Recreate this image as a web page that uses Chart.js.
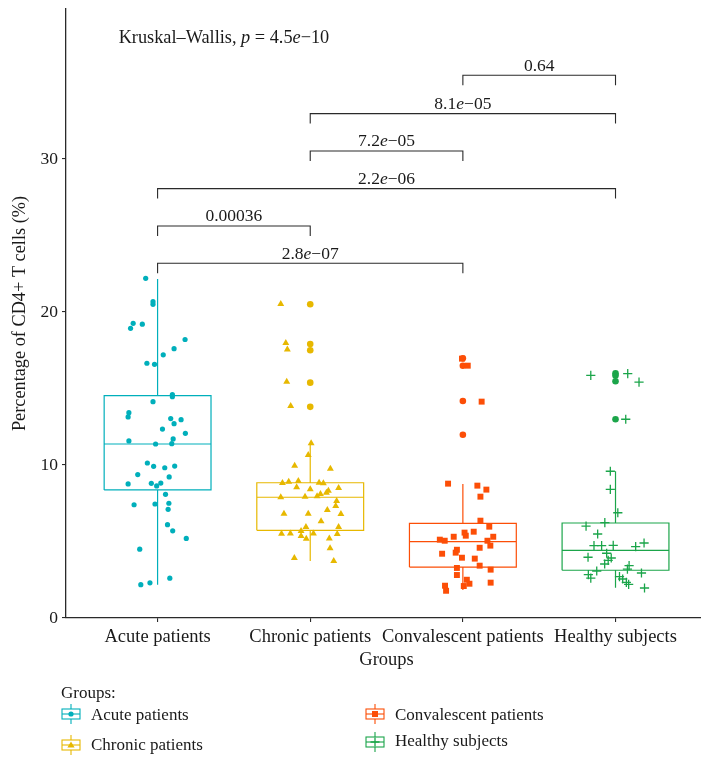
<!DOCTYPE html>
<html lang="en">
<head>
<meta charset="UTF-8">
<title>Percentage of CD4+ T cells by group</title>
<script src="https://cdn.jsdelivr.net/npm/chart.js@4"></script>
<style>
  html, body { margin: 0; padding: 0; background: #fff; overflow: hidden; }
  #wrap { position: relative; width: 713px; height: 758px; font-family: "Liberation Serif", serif; color: #1a1a1a; }
  #chart { position: absolute; left: 0; top: 0; }
  .lg { position: absolute; font-size: 17px; line-height: 20px; white-space: nowrap; }
  .icon { position: absolute; }
</style>
</head>
<body>
<div id="wrap">
  <canvas id="chart" width="713" height="758"></canvas>
  <div id="legend"></div>
</div>
<script>
// groups and colours
const groups = ['Acute patients', 'Chronic patients', 'Convalescent patients', 'Healthy subjects'];
const colors = ['#00AFBB', '#E7B800', '#FC4E07', '#1BA54A'];
const shapes = ['circle', 'triangle', 'rect', 'cross'];

// box statistics
const q1 = [8.37, 5.73, 3.33, 3.12];
const medians = [11.37, 7.89, 4.99, 4.42];
const q3 = [14.53, 8.84, 6.19, 6.21];
const whiskerLow = [2.18, 3.73, 1.83, 1.98];
const whiskerHigh = [22.16, 11.42, 8.76, 9.59];

// outliers drawn by the boxplot (at the group centre)
const acuteOutliers = [];
const chronicOutliers = [20.5, 17.9, 17.5, 15.38, 13.8];
const convalescentOutliers = [16.97, 16.49, 14.18, 11.98];
const healthyOutliers = [15.99, 15.84, 15.47, 12.99];

// jittered observations: value and horizontal jitter
const acuteValues = [22.2, 20.67, 20.5, 19.26, 19.2, 18.93, 18.2, 17.6, 17.2, 16.65, 16.58, 14.6, 14.46, 14.14, 13.42, 13.14, 13.03, 12.96, 12.7, 12.35, 12.07, 11.57, 11.7, 11.39, 11.37, 10.13, 9.91, 9.82, 9.93, 9.37, 9.22, 8.76, 8.8, 8.63, 8.82, 8.08, 7.4, 7.45, 7.5, 7.1, 6.1, 5.7, 5.2, 4.5, 2.6, 2.3, 2.18];
const acuteJitter = [-0.078, -0.03, -0.03, -0.16, -0.1, -0.177, 0.18, 0.108, 0.037, -0.07, -0.02, 0.097, 0.097, -0.03, -0.188, -0.193, 0.086, 0.154, 0.108, 0.032, 0.182, -0.188, 0.102, 0.093, -0.013, -0.067, -0.026, 0.047, 0.112, -0.13, 0.076, -0.193, -0.041, -0.006, 0.021, 0.052, -0.154, -0.017, 0.074, 0.069, 0.065, 0.099, 0.188, -0.117, 0.08, -0.05, -0.11];

const chronicValues = [20.52, 17.97, 17.54, 15.44, 13.86, 11.42, 10.65, 9.95, 9.76, 8.82, 8.91, 8.95, 8.84, 8.8, 8.54, 8.41, 8.5, 8.32, 8.19, 8.1, 7.95, 7.89, 7.93, 7.65, 7.32, 7.06, 6.82, 6.82, 6.8, 6.32, 5.95, 5.95, 5.69, 5.51, 5.53, 5.53, 5.36, 5.49, 5.18, 5.2, 4.56, 3.92, 3.73];
const chronicJitter = [-0.193, -0.16, -0.15, -0.154, -0.128, 0.006, -0.013, -0.102, 0.132, -0.182, -0.141, -0.078, 0.058, 0.086, -0.089, 0, 0.186, 0.119, 0.106, 0.067, 0.045, -0.193, -0.034, 0.173, 0.167, 0.112, -0.172, -0.013, 0.201, 0.071, -0.028, 0.186, -0.06, -0.188, -0.13, 0.021, -0.06, 0.177, -0.026, 0.125, 0.13, -0.104, 0.154];

const convalescentValues = [16.95, 16.49, 14.14, 8.78, 8.65, 8.39, 7.93, 6.36, 5.97, 5.58, 5.64, 5.38, 5.31, 5.31, 5.12, 5.05, 5.05, 4.73, 4.46, 4.59, 4.27, 4.2, 3.94, 3.88, 3.42, 3.27, 3.16, 2.81, 2.5, 2.24, 2.31, 2.09, 2.11, 1.78];
const convalescentJitter = [-0.006, 0.032, 0.123, -0.097, 0.095, 0.154, 0.115, 0.115, 0.173, 0.011, 0.071, 0.019, -0.06, 0.199, -0.151, -0.119, 0.161, 0.18, -0.039, 0.11, -0.047, -0.136, -0.006, 0.078, 0.11, -0.039, 0.182, -0.039, 0.026, 0.043, 0.182, 0.006, -0.117, -0.11];

const healthyValues = [15.86, 15.97, 15.42, 12.99, 9.59, 8.41, 6.88, 6.23, 6.01, 5.49, 4.73, 4.73, 4.75, 4.66, 4.9, 4.23, 3.97, 3.92, 3.77, 3.53, 3.42, 3.2, 3.07, 2.94, 2.83, 2.61, 2.7, 2.55, 2.33, 2.2, 1.96];
const healthyJitter = [-0.162, 0.08, 0.154, 0.067, -0.034, -0.034, 0.015, -0.07, -0.193, -0.117, -0.141, -0.091, -0.015, 0.132, 0.187, -0.058, -0.18, -0.028, -0.048, -0.071, 0.089, 0.078, -0.123, 0.17, -0.178, -0.162, 0.026, 0.047, 0.071, 0.086, 0.19];

// pairwise comparisons (group numbers), p-values and bracket heights
const pairs = [[3, 4], [2, 4], [2, 3], [1, 4], [1, 2], [1, 3]];
const pLabels = ['0.64', '8.1e\u221205', '7.2e\u221205', '2.2e\u221206', '0.00036', '2.8e\u221207'];
const bracketY = [35.47, 32.96, 30.52, 28.06, 25.62, 23.18];

const yTicks = [0, 10, 20, 30];

const allValues = [acuteValues, chronicValues, convalescentValues, healthyValues];
const allJitter = [acuteJitter, chronicJitter, convalescentJitter, healthyJitter];
const allOutliers = [acuteOutliers, chronicOutliers, convalescentOutliers, healthyOutliers];

const HALF_BOX = 0.35;
const TIP = 0.65;
const INK = '#1a1a1a';
const FONT = '"Liberation Serif", "Times New Roman", serif';
Chart.defaults.font.family = FONT;
Chart.defaults.color = INK;

const pointSizes = { circle: 2.6, triangle: 4, rect: 4.2, cross: 4.6 };

const datasets = [];

// jittered points on top
groups.forEach((g, i) => {
  const shape = shapes[i];
  datasets.push({
    type: 'scatter',
    label: g,
    data: allValues[i].map((v, k) => ({ x: i + 1 + allJitter[i][k], y: v })),
    pointStyle: shape,
    pointRadius: pointSizes[shape],
    backgroundColor: colors[i],
    borderColor: colors[i],
    borderWidth: shape === 'cross' ? 1.3 : 0,
    order: 0
  });
});

// boxplot outliers
groups.forEach((g, i) => {
  datasets.push({
    type: 'scatter',
    label: g + ' outliers',
    data: allOutliers[i].map(v => ({ x: i + 1, y: v })),
    pointStyle: 'circle',
    pointRadius: 3.3,
    backgroundColor: colors[i],
    borderWidth: 0,
    order: 1
  });
});

// box outline, median and whiskers as broken line
groups.forEach((g, i) => {
  const c = i + 1, l = c - HALF_BOX, r = c + HALF_BOX;
  datasets.push({
    type: 'scatter',
    label: g + ' box',
    showLine: true,
    spanGaps: false,
    data: [
      { x: l, y: q1[i] }, { x: r, y: q1[i] }, { x: r, y: q3[i] }, { x: l, y: q3[i] }, { x: l, y: q1[i] },
      { x: l, y: null },
      { x: l, y: medians[i] }, { x: r, y: medians[i] },
      { x: c, y: null },
      { x: c, y: q3[i] }, { x: c, y: whiskerHigh[i] },
      { x: c, y: null },
      { x: c, y: whiskerLow[i] }, { x: c, y: q1[i] }
    ],
    borderColor: colors[i],
    borderWidth: 1.2,
    pointRadius: 0,
    order: 2
  });
});

// comparison brackets
pairs.forEach(([a, b], i) => {
  datasets.push({
    type: 'scatter',
    label: 'bracket ' + pLabels[i],
    showLine: true,
    data: [
      { x: a, y: bracketY[i] - TIP }, { x: a, y: bracketY[i] },
      { x: b, y: bracketY[i] }, { x: b, y: bracketY[i] - TIP }
    ],
    borderColor: '#2a2a2a',
    borderWidth: 1.1,
    pointRadius: 0,
    order: 3
  });
});

// text with italic parts
function sciParts(s) {
  const k = s.indexOf('e');
  if (k < 0) return [[s, false]];
  return [[s.slice(0, k), false], ['e', true], [s.slice(k + 1), false]];
}
const kwParts = [['Kruskal\u2013Wallis, ', false], ['p', true], [' = 4.5', false], ['e', true], ['\u221210', false]];

function drawRich(ctx, parts, x, y, align, size) {
  const fontOf = it => (it ? 'italic ' : '') + size + 'px ' + FONT;
  let total = 0;
  parts.forEach(([t, it]) => { ctx.font = fontOf(it); total += ctx.measureText(t).width; });
  let cx = align === 'center' ? x - total / 2 : x;
  ctx.textAlign = 'left';
  ctx.textBaseline = 'alphabetic';
  parts.forEach(([t, it]) => {
    ctx.font = fontOf(it);
    ctx.fillText(t, cx, y);
    cx += ctx.measureText(t).width;
  });
}

const textPlugin = {
  id: 'pvalueText',
  afterDatasetsDraw(chart) {
    const { ctx, scales: { x, y } } = chart;
    ctx.save();
    ctx.fillStyle = INK;
    pairs.forEach(([a, b], i) => {
      drawRich(ctx, sciParts(pLabels[i]), x.getPixelForValue((a + b) / 2), y.getPixelForValue(bracketY[i]) - 4.5, 'center', 17.5);
    });
    drawRich(ctx, kwParts, x.getPixelForValue(0.745), y.getPixelForValue(37.6), 'left', 18.3);
    ctx.restore();
  }
};

new Chart(document.getElementById('chart'), {
  type: 'scatter',
  data: { datasets },
  options: {
    responsive: false,
    animation: false,
    layout: { padding: { top: 9, right: 0, bottom: 80, left: 0 } },
    plugins: { legend: { display: false }, tooltip: { enabled: false } },
    scales: {
      x: {
        type: 'linear',
        min: 0.4,
        max: 4.6,
        afterBuildTicks: axis => { axis.ticks = groups.map((g, i) => ({ value: i + 1 })); },
        afterFit: s => { s.height = 60; s.paddingLeft = 0; s.paddingRight = 0; },
        ticks: {
          autoSkip: false,
          maxRotation: 0,
          padding: 4,
          color: INK,
          font: { size: 18.5 },
          callback: v => groups[v - 1]
        },
        grid: { display: true, drawOnChartArea: false, drawTicks: true, tickLength: 4, color: '#2a2a2a', lineWidth: 1.1 },
        border: { display: true, color: '#2a2a2a', width: 1.3 },
        title: { display: true, text: 'Groups', color: INK, font: { size: 18.5 }, padding: { top: 0, bottom: 7 } }
      },
      y: {
        min: 0,
        max: 39.8,
        afterBuildTicks: axis => { axis.ticks = yTicks.map(v => ({ value: v })); },
        afterFit: s => { s.width = 66; s.paddingTop = 0; s.paddingBottom = 0; },
        ticks: { padding: 4, color: INK, font: { size: 17.5 } },
        grid: { display: true, drawOnChartArea: false, drawTicks: true, tickLength: 4, color: '#2a2a2a', lineWidth: 1.1 },
        border: { display: true, color: '#2a2a2a', width: 1.3 },
        title: { display: true, text: 'Percentage of CD4+ T cells (%)', color: INK, font: { size: 18.3 }, padding: { top: 9, bottom: 0 } }
      }
    }
  },
  plugins: [textPlugin]
});

// legend: boxplot glyph + label, laid out in two columns like the original
const legendPos = [
  { left: 61, cy: 714, base: 721 },
  { left: 61, cy: 745, base: 751 },
  { left: 365, cy: 714, base: 721 },
  { left: 365, cy: 742, base: 747 }
];

function glyph(shape, col) {
  let mark = '';
  if (shape === 'circle') mark = `<circle cx="10" cy="10" r="2.6" fill="${col}"/>`;
  if (shape === 'triangle') mark = `<polygon points="10,6.5 13.6,12.5 6.4,12.5" fill="${col}"/>`;
  if (shape === 'rect') mark = `<rect x="7" y="7" width="6" height="6" fill="${col}"/>`;
  if (shape === 'cross') mark = `<path d="M10 5.5V14.5M5.5 10H14.5" stroke="${col}" stroke-width="1.3"/>`;
  return `<svg width="20" height="20" viewBox="0 0 20 20">` +
    `<path d="M10 0V5M10 15V20" stroke="${col}" stroke-width="1.1"/>` +
    `<rect x="1" y="5" width="18" height="10" fill="#fff" stroke="${col}" stroke-width="1.1"/>` +
    `<path d="M1 10H19" stroke="${col}" stroke-width="1.1"/>` + mark + `</svg>`;
}

const legend = document.getElementById('legend');
let html = `<div class="lg" style="left:61px;top:${699 - 16}px">Groups:</div>`;
groups.forEach((g, i) => {
  const p = legendPos[i];
  html += `<div class="icon" style="left:${p.left}px;top:${p.cy - 10}px">${glyph(shapes[i], colors[i])}</div>`;
  html += `<div class="lg" style="left:${p.left + 30}px;top:${p.base - 16}px">${g}</div>`;
});
legend.innerHTML = html;
</script>
</body>
</html>
